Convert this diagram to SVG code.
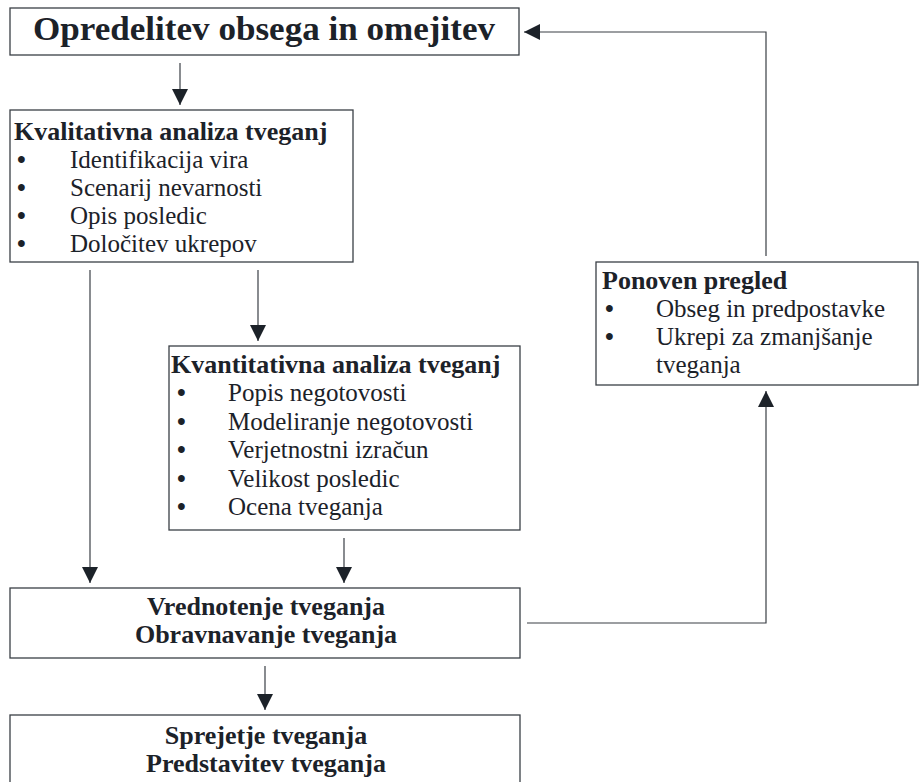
<svg xmlns="http://www.w3.org/2000/svg" width="923" height="782" viewBox="0 0 923 782">
  <style>
    .box { fill: #ffffff; stroke: #3a3f45; stroke-width: 1.3; }
    .conn { fill: none; stroke: #3a3f45; stroke-width: 1.2; }
    text { font-family: "Liberation Serif", "Times New Roman", serif; fill: #1c2229; }
    .h0 { font-size: 34px; font-weight: bold; }
    .hb { font-size: 26px; font-weight: bold; }
    .li { font-size: 25px; }
    .bu { font-weight: bold; }
    .mid { text-anchor: middle; }
  </style>
  <defs>
    <marker id="arrow" markerUnits="userSpaceOnUse" markerWidth="16" markerHeight="16" refX="16" refY="8" orient="auto">
      <path d="M0,0 L16,8 L0,16 Z" fill="#1c2229"/>
    </marker>
  </defs>

  <rect width="923" height="782" fill="#ffffff"/>

  <!-- connectors -->
  <g id="connectors">
    <line class="conn" x1="180" y1="63" x2="180" y2="105" marker-end="url(#arrow)"/>
    <line class="conn" x1="90" y1="270" x2="90" y2="583" marker-end="url(#arrow)"/>
    <line class="conn" x1="258" y1="270" x2="258" y2="341" marker-end="url(#arrow)"/>
    <line class="conn" x1="344" y1="538" x2="344" y2="583" marker-end="url(#arrow)"/>
    <line class="conn" x1="265" y1="666" x2="265" y2="710" marker-end="url(#arrow)"/>
    <polyline class="conn" points="527,623 766,623 766,391" marker-end="url(#arrow)"/>
    <polyline class="conn" points="766,256 766,32 524,32" marker-end="url(#arrow)"/>
  </g>

  <!-- scope definition -->
  <g id="scope">
    <rect class="box" x="10" y="8" width="509" height="47"/>
    <text class="h0 mid" x="264" y="40" textLength="462" lengthAdjust="spacingAndGlyphs">Opredelitev obsega in omejitev</text>
  </g>

  <!-- qualitative analysis -->
  <g id="qualitative">
    <rect class="box" x="10" y="110" width="343" height="152"/>
    <text class="hb" x="14" y="140">Kvalitativna analiza tveganj</text>
    <text class="li" y="168"><tspan class="bu" x="17">•</tspan><tspan x="70">Identifikacija vira</tspan></text>
    <text class="li" y="196"><tspan class="bu" x="17">•</tspan><tspan x="70">Scenarij nevarnosti</tspan></text>
    <text class="li" y="224"><tspan class="bu" x="17">•</tspan><tspan x="70">Opis posledic</tspan></text>
    <text class="li" y="252"><tspan class="bu" x="17">•</tspan><tspan x="70">Določitev ukrepov</tspan></text>
  </g>

  <!-- quantitative analysis -->
  <g id="quantitative">
    <rect class="box" x="169" y="346" width="351" height="184"/>
    <text class="hb" x="171" y="373">Kvantitativna analiza tveganj</text>
    <text class="li" y="401"><tspan class="bu" x="177">•</tspan><tspan x="228">Popis negotovosti</tspan></text>
    <text class="li" y="430"><tspan class="bu" x="177">•</tspan><tspan x="228">Modeliranje negotovosti</tspan></text>
    <text class="li" y="458"><tspan class="bu" x="177">•</tspan><tspan x="228">Verjetnostni izračun</tspan></text>
    <text class="li" y="487"><tspan class="bu" x="177">•</tspan><tspan x="228">Velikost posledic</tspan></text>
    <text class="li" y="515"><tspan class="bu" x="177">•</tspan><tspan x="228">Ocena tveganja</tspan></text>
  </g>

  <!-- review -->
  <g id="review">
    <rect class="box" x="596" y="262" width="322" height="123"/>
    <text class="hb" x="602" y="289">Ponoven pregled</text>
    <text class="li" y="317"><tspan class="bu" x="605">•</tspan><tspan x="656">Obseg in predpostavke</tspan></text>
    <text class="li" y="345"><tspan class="bu" x="605">•</tspan><tspan x="656">Ukrepi za zmanjšanje</tspan></text>
    <text class="li" x="656" y="373">tveganja</text>
  </g>

  <!-- evaluation and treatment -->
  <g id="evaluation">
    <rect class="box" x="10" y="588" width="510" height="70"/>
    <text class="hb mid" x="266" y="615">Vrednotenje tveganja</text>
    <text class="hb mid" x="266" y="643">Obravnavanje tveganja</text>
  </g>

  <!-- acceptance and communication -->
  <g id="acceptance">
    <rect class="box" x="10" y="715" width="510" height="80"/>
    <text class="hb mid" x="266" y="744">Sprejetje tveganja</text>
    <text class="hb mid" x="266" y="772">Predstavitev tveganja</text>
  </g>
</svg>
